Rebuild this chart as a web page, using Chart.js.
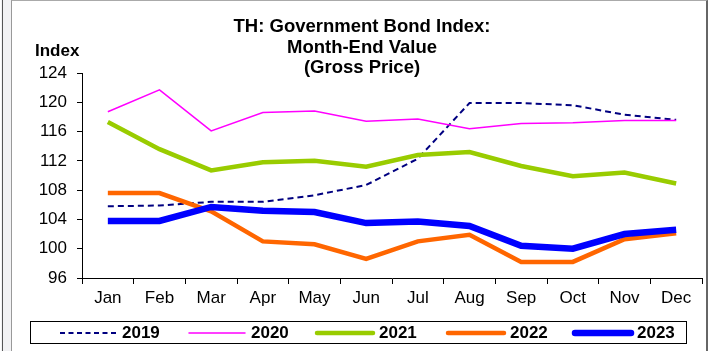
<!DOCTYPE html>
<html>
<head>
<meta charset="utf-8">
<script src="https://cdn.jsdelivr.net/npm/chart.js@4/dist/chart.umd.min.js"></script>
<style>
  html, body { margin: 0; padding: 0; background: #fff; }
  #wrap { position: relative; width: 712px; height: 351px; overflow: hidden; }
  #shade { position: absolute; left: 0; top: 0; width: 11px; height: 351px; background: #f2f2f4; border-left: 1px solid #fff; }
  #edge { position: absolute; left: 2px; top: 0; width: 1px; height: 351px; background: #555; }
  #frame { position: absolute; left: 11px; top: 0; width: 697px; height: 351px; border-top: 1px solid #aaa; border-left: 1px solid #999; border-right: 2px solid #666; box-sizing: border-box; }
  canvas { position: absolute; left: 0; top: 0; }
</style>
</head>
<body>
<div id="wrap">
  <div id="shade"></div>
  <div id="edge"></div>
  <div id="frame"></div>
  <canvas id="bondChart" width="712" height="351"></canvas>
</div>
<script>
document.addEventListener("DOMContentLoaded", function () {
  // Data
  const months = ["Jan", "Feb", "Mar", "Apr", "May", "Jun", "Jul", "Aug", "Sep", "Oct", "Nov", "Dec"];
  const years = ["2019", "2020", "2021", "2022", "2023"];
  const y2019 = [105.8, 105.9, 106.4, 106.4, 107.3, 108.7, 112.3, 119.9, 119.9, 119.6, 118.3, 117.6];
  const y2020 = [118.7, 121.7, 116.1, 118.6, 118.8, 117.4, 117.7, 116.4, 117.1, 117.2, 117.5, 117.5];
  const y2021 = [117.3, 113.6, 110.7, 111.8, 112.0, 111.2, 112.8, 113.2, 111.3, 109.9, 110.4, 108.9];
  const y2022 = [107.6, 107.6, 105.1, 101.0, 100.6, 98.6, 101.0, 101.9, 98.2, 98.2, 101.3, 102.1];
  const y2023 = [103.8, 103.8, 105.7, 105.2, 105.0, 103.5, 103.7, 103.1, 100.4, 100.0, 102.0, 102.6];
  const yTicks = [96, 100, 104, 108, 112, 116, 120, 124];
  const titleLines = ["TH: Government Bond Index:", "Month-End Value", "(Gross Price)"];

  const font = "'Liberation Sans', Arial, sans-serif";

  const series = [
    { label: years[0], data: y2019, color: "#000080", width: 2, dash: [6, 4] },
    { label: years[1], data: y2020, color: "#FF00FF", width: 1.5, dash: [] },
    { label: years[2], data: y2021, color: "#99CC00", width: 4.5, dash: [] },
    { label: years[3], data: y2022, color: "#FF6600", width: 4.5, dash: [] },
    { label: years[4], data: y2023, color: "#0000FF", width: 6.5, dash: [] },
  ];

  // Title, axis caption and boxed legend drawn on the canvas
  const decorations = {
    id: "decorations",
    afterDraw(chart) {
      const ctx = chart.ctx;
      ctx.save();
      ctx.fillStyle = "#000";
      ctx.textBaseline = "middle";
      ctx.textAlign = "center";
      ctx.font = "bold 18.5px " + font;
      const titleY = [27, 48, 68];
      titleLines.forEach((t, i) => ctx.fillText(t, 362, titleY[i]));

      ctx.textAlign = "left";
      ctx.font = "bold 17px " + font;
      ctx.fillText("Index", 35, 51);

      // legend
      ctx.strokeStyle = "#000";
      ctx.lineWidth = 1;
      ctx.strokeRect(30.5, 321.5, 656, 22);
      const lineX = [60, 189, 317, 448, 575];
      series.forEach((s, i) => {
        ctx.beginPath();
        ctx.strokeStyle = s.color;
        ctx.lineWidth = s.width;
        ctx.setLineDash(s.dash.length ? [5, 3.5] : []);
        ctx.lineCap = s.dash.length ? "butt" : "round";
        ctx.moveTo(lineX[i], 333);
        ctx.lineTo(lineX[i] + 56, 333);
        ctx.stroke();
        ctx.setLineDash([]);
        ctx.fillStyle = "#000";
        ctx.fillText(s.label, lineX[i] + 62, 333);
      });
      ctx.restore();
    },
  };

  const bondChart = new Chart(document.getElementById("bondChart"), {
    type: "line",
    data: {
      labels: months,
      datasets: series.map((s, i) => ({
        label: s.label,
        data: s.data,
        borderColor: s.color,
        backgroundColor: s.color,
        borderWidth: s.width,
        borderDash: s.dash,
        pointRadius: 0,
        tension: 0,
        fill: false,
        order: series.length - i,
      })),
    },
    options: {
      responsive: false,
      animation: false,
      layout: { padding: { left: 0, right: 10, top: 73, bottom: 43 } },
      plugins: {
        legend: { display: false },
        title: { display: false },
        tooltip: { enabled: false },
      },
      scales: {
        x: {
          offset: true,
          afterFit: (scale) => { scale.height = 30; },
          grid: { display: true, offset: true, drawOnChartArea: false, drawTicks: true, tickLength: 6, color: "#000" },
          border: { display: true, color: "#000", width: 1 },
          ticks: { color: "#000", padding: 4, font: { family: font, size: 17 }, maxRotation: 0 },
        },
        y: {
          min: 96,
          max: 124,
          afterFit: (scale) => { scale.width = 82; },
          afterBuildTicks: (scale) => { scale.ticks = yTicks.map((v) => ({ value: v })); },
          grid: { display: true, drawOnChartArea: false, drawTicks: true, tickLength: 5, color: "#000" },
          border: { display: true, color: "#000", width: 1 },
          ticks: { color: "#000", padding: 10, font: { family: font, size: 17 } },
        },
      },
    },
    plugins: [decorations],
  });
});
</script>
</body>
</html>
